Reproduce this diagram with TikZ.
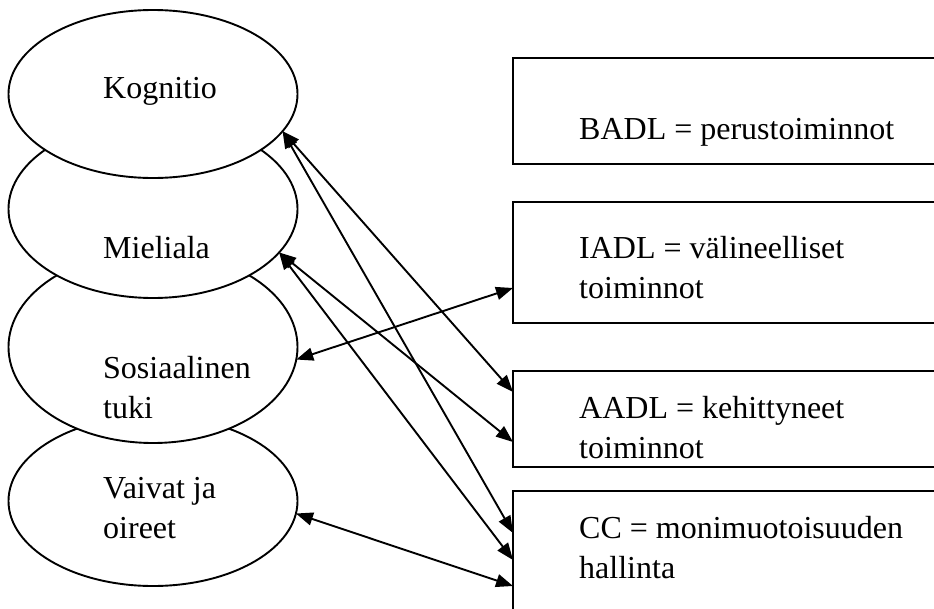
\documentclass[tikz,border=0pt]{standalone}
\usepackage{fontspec}
\setmainfont{Liberation Serif}
\usetikzlibrary{arrows.meta,shapes.geometric}

\tikzset{
  oval/.style={ellipse, draw, fill=white, line width=1.9pt, inner sep=0pt, outer sep=0pt,
               minimum width=289pt},
  panel/.style={rectangle, draw, line width=2pt, inner sep=0pt, outer sep=0pt,
                anchor=north west, minimum width=520pt},
  % text is placed by the baseline of its last line
  txt/.style={anchor=base west, inner sep=0pt, align=left,
              font=\fontsize{32}{39.5}\selectfont},
  link/.style={line width=1.9pt, {Triangle[length=17pt,width=13pt]}-{Triangle[length=17pt,width=13pt]}}
}

\begin{document}
\begin{tikzpicture}[x=1pt, y=-1pt]
  \useasboundingbox (0,0) rectangle (934,608);
  \clip (0,0) rectangle (934,608);

  % factor ovals, lower ones first so each one above overlaps it
  \node[oval, minimum height=170pt] (vai) at (153,501) {};
  \node[oval, minimum height=192pt] (sos) at (153,347) {};
  \node[oval, minimum height=178pt] (mie) at (153,209) {};
  \node[oval, minimum height=168pt] (kog) at (153,94) {};

  \node[txt] (tkog) at (103,98) {Kognitio};
  \node[txt] (tmie) at (103,258) {Mieliala};
  \node[txt] (tsos) at (103,418) {Sosiaalinen\\tuki};
  \node[txt] (tvai) at (103,538) {Vaivat ja\\oireet};

  % activity boxes, running past the right edge
  \node[panel, minimum height=106pt] (badl) at (513,58) {};
  \node[panel, minimum height=121pt] (iadl) at (513,202) {};
  \node[panel, minimum height=96pt]  (aadl) at (513,371) {};
  \node[panel, minimum height=150pt] (cc)   at (513,491) {};

  \node[txt] (tbadl) at (579,139) {BADL = perustoiminnot};
  \node[txt] (tiadl) at (579,298) {IADL = välineelliset\\toiminnot};
  \node[txt] (taadl) at (579,458) {AADL = kehittyneet\\toiminnot};
  \node[txt] (tcc)   at (579,578) {CC = monimuotoisuuden\\hallinta};

  % two-way links
  \draw[link] (kog.-16) -- ([yshift=-21pt]aadl.north west);
  \draw[link] (kog.-16) -- ([yshift=-42pt]cc.north west);
  \draw[link] (mie.-19) -- ([yshift=-71pt]aadl.north west);
  \draw[link] (mie.-19) -- ([yshift=-69pt]cc.north west);
  \draw[link] (sos.-5)  -- ([yshift=-86pt]iadl.north west);
  \draw[link] (vai.-5.5) -- ([yshift=-95pt]cc.north west);
\end{tikzpicture}
\end{document}
